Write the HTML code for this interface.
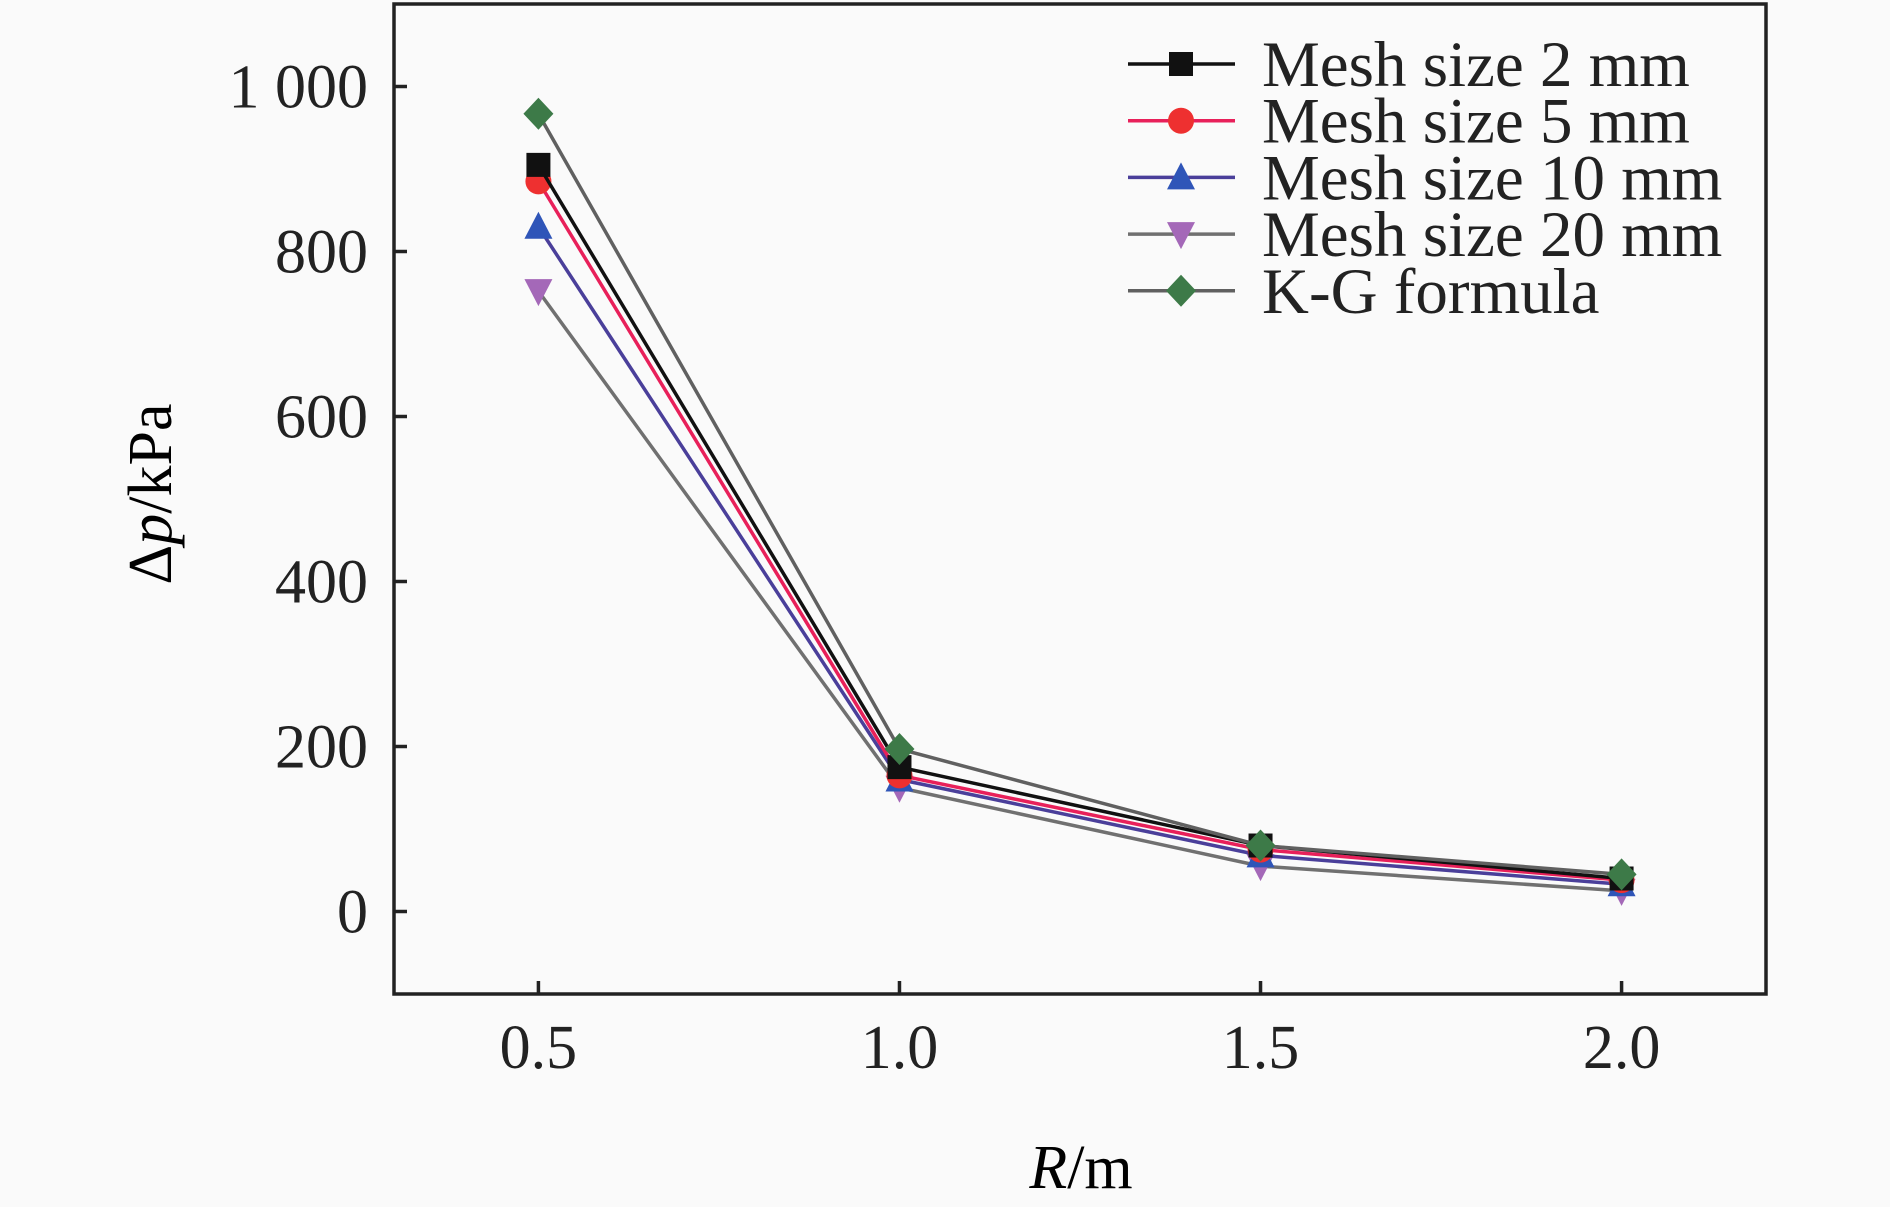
<!DOCTYPE html>
<html><head><meta charset="utf-8"><style>
body{margin:0;background:#fafafa}
svg{display:block;font-family:"Liberation Serif",serif}
</style></head><body>
<svg id="chart" width="1890" height="1207" viewBox="0 0 1890 1207" xmlns="http://www.w3.org/2000/svg">
<rect width="1890" height="1207" fill="#fafafa"/>
<g id="plot"></g>
<text x="157" y="494" font-size="62" text-anchor="middle" dominant-baseline="middle" transform="rotate(-90 157 494)">Δ<tspan font-style="italic">p</tspan>/kPa</text>
<text x="1081" y="1188" font-size="62" text-anchor="middle"><tspan font-style="italic">R</tspan>/m</text>
</svg>
<script>
const xCats = [0.5, 1.0, 1.5, 2.0];
const xTickLabels = ["0.5", "1.0", "1.5", "2.0"];
const yTicks = [0, 200, 400, 600, 800, 1000];
const yTickLabels = ["0", "200", "400", "600", "800", "1 000"];
const seriesNames = ["Mesh size 2 mm", "Mesh size 5 mm", "Mesh size 10 mm", "Mesh size 20 mm", "K-G formula"];
const mesh2 = [905, 175, 80, 40];
const mesh5 = [885, 165, 75, 38];
const mesh10 = [830, 160, 68, 33];
const mesh20 = [752, 150, 55, 25];
const kg = [967, 197, 80, 45];

const L=394, R=1766, T=4, B=994;
const xmin=0.3, xmax=2.2, ymin=-100, ymax=1100;
function sx(v){return L+(v-xmin)/(xmax-xmin)*(R-L);}
function sy(v){return B-(v-ymin)/(ymax-ymin)*(B-T);}
const NS="http://www.w3.org/2000/svg";
const g=document.getElementById('plot');
function mk(tag,attrs,parent){const e=document.createElementNS(NS,tag);for(const k in attrs)e.setAttribute(k,attrs[k]);(parent||g).appendChild(e);return e;}

const styles=[
 {line:"#111111",fill:"#111111",m:"square"},
 {line:"#e8205a",fill:"#ee3030",m:"circle"},
 {line:"#4a3f9a",fill:"#2f55b8",m:"tri"},
 {line:"#707070",fill:"#a468b8",m:"tridown"},
 {line:"#606060",fill:"#3d7a48",m:"diamond"}
];
const data=[mesh2,mesh5,mesh10,mesh20,kg];
function marker(m,x,y,c,parent){
  const s=12;
  let e;
  if(m==="square") e=mk('rect',{x:x-s,y:y-s,width:2*s,height:2*s,fill:c},parent);
  else if(m==="circle") e=mk('circle',{cx:x,cy:y,r:s+1,fill:c},parent);
  else if(m==="tri") e=mk('polygon',{points:`${x},${y-s-3} ${x+s+2},${y+s} ${x-s-2},${y+s}`,fill:c},parent);
  else if(m==="tridown") e=mk('polygon',{points:`${x-s-2},${y-s} ${x+s+2},${y-s} ${x},${y+s+3}`,fill:c},parent);
  else e=mk('polygon',{points:`${x},${y-s-4} ${x+s+3},${y} ${x},${y+s+4} ${x-s-3},${y}`,fill:c},parent);
  return e;
}
const order=[3,2,1,0,4];
order.forEach(i=>{
  const sg=mk('g',{});
  
  
  const pts=data[i].map((v,j)=>sx(xCats[j])+','+sy(v)).join(' ');
  const pl=mk('polyline',{points:pts,fill:'none',stroke:styles[i].line,'stroke-width':3.5},sg);
  
  
  data[i].forEach((v,j)=>{
    const m=marker(styles[i].m,sx(xCats[j]),sy(v),styles[i].fill,sg);
    
    
  });
});
const fr=mk('rect',{x:L,y:T,width:R-L,height:B-T,fill:'none',stroke:'#222','stroke-width':3.5});


yTicks.forEach((v,i)=>{
  const y=sy(v);
  const t=mk('line',{x1:L,x2:L+13,y1:y,y2:y,stroke:'#222','stroke-width':3.5});
  
  
  const tx=mk('text',{x:368,y:y+21,'font-size':62,'text-anchor':'end',fill:'#222'});
  tx.textContent=yTickLabels[i];
  
  
});
xCats.forEach((v,i)=>{
  const x=sx(v);
  const t=mk('line',{x1:x,x2:x,y1:B,y2:B-13,stroke:'#222','stroke-width':3.5});
  
  
  const tx=mk('text',{x:x,y:1068,'font-size':62,'text-anchor':'middle',fill:'#222'});
  tx.textContent=xTickLabels[i];
  
  
});
const lg=mk('g',{});


seriesNames.forEach((n,i)=>{
  const y=64+i*56.7;
  const eg=mk('g',{},lg);
  
  
  mk('line',{x1:1128,x2:1235,y1:y,y2:y,stroke:styles[i].line,'stroke-width':3.5},eg);
  marker(styles[i].m,1181,y,styles[i].fill,eg);
  const tx=mk('text',{x:1262,y:y+22,'font-size':65,fill:'#222'},eg);
  tx.textContent=n;
});
</script>
</body></html>
